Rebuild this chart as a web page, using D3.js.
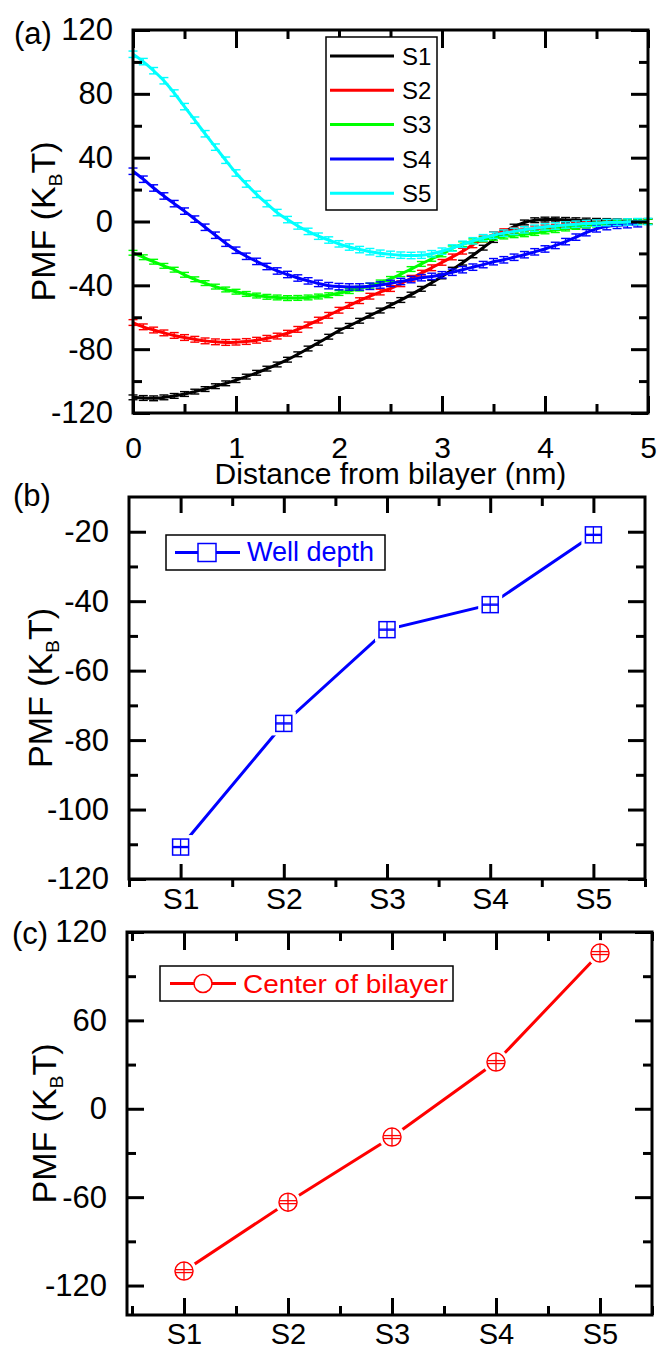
<!DOCTYPE html>
<html>
<head>
<meta charset="utf-8">
<script src="https://cdn.jsdelivr.net/npm/d3@7"></script>
<style>
body { margin: 0; background: #fff; }
text { font-family: "Liberation Sans", Arial, sans-serif; }
</style>
</head>
<body>
<svg id="fig" width="659" height="1349"></svg>
<script>
// ---- data ----
var distNm = [0,0.1,0.2,0.3,0.4,0.5,0.6,0.7,0.8,0.9,1.0,1.1,1.2,1.3,1.4,1.5,1.6,1.7,1.8,1.9,
  2.0,2.1,2.2,2.3,2.4,2.5,2.6,2.7,2.8,2.9,3.0,3.1,3.2,3.3,3.4,3.5,3.6,3.7,3.8,3.9,
  4.0,4.1,4.2,4.3,4.4,4.5,4.6,4.7,4.8,4.9,5.0];

var pmfS1 = [-110.2,-110.6,-110.8,-110.2,-109.3,-108.1,-106.6,-105.0,-103.2,-101.4,
  -99.4,-97.2,-94.8,-92.2,-89.6,-86.6,-83.2,-79.6,-76.0,-72.2,
  -68.4,-65.4,-62.2,-59.0,-55.8,-52.5,-49.2,-45.8,-42.2,-38.4,
  -34.4,-30.2,-25.8,-21.2,-16.4,-11.6,-7.0,-3.2,-0.6,0.8,
  1.2,1.2,1.0,0.8,0.6,0.4,0.3,0.2,0.1,0.0,0.0];
var pmfS2 = [-63.3,-66.0,-68.0,-69.8,-71.4,-72.7,-73.8,-74.8,-75.4,-75.8,
  -75.6,-75.2,-74.4,-73.2,-71.8,-70.0,-67.6,-64.8,-61.8,-58.8,
  -55.6,-52.6,-49.6,-46.8,-44.2,-42.0,-39.0,-35.6,-32.4,-29.0,
  -25.6,-22.2,-18.6,-14.6,-11.0,-8.2,-6.4,-5.6,-5.0,-4.6,
  -4.0,-3.6,-3.0,-2.4,-1.8,-1.2,-0.8,-0.5,-0.3,-0.1,0.0];
var pmfS3 = [-19.6,-22.4,-25.2,-27.8,-30.2,-33.4,-36.2,-38.6,-40.8,-42.6,
  -44.0,-45.4,-46.4,-47.2,-47.6,-48.0,-47.9,-47.6,-47.0,-46.2,
  -44.8,-43.6,-42.0,-40.2,-38.2,-36.0,-33.0,-29.8,-26.6,-23.4,
  -20.6,-16.8,-14.2,-12.4,-11.2,-10.2,-9.4,-8.6,-8.0,-7.2,
  -6.2,-5.4,-4.4,-3.4,-2.6,-1.9,-1.4,-0.8,-0.5,-0.2,0.0];
var pmfS4 = [31.5,26.5,21.0,16.0,11.2,6.5,1.5,-3.6,-8.6,-13.6,
  -18.0,-21.8,-25.0,-28.2,-31.0,-33.2,-35.4,-37.2,-38.8,-40.2,
  -40.8,-41.0,-41.0,-40.6,-39.8,-38.8,-37.6,-36.4,-35.2,-34.4,
  -33.4,-31.8,-30.2,-28.6,-27.0,-25.2,-24.0,-22.4,-20.8,-19.0,
  -17.2,-15.0,-12.6,-9.8,-7.0,-4.6,-3.2,-2.4,-2.0,-1.4];
var pmfS5 = [104.8,100.2,94.5,88.2,80.5,72.0,63.5,55.0,46.6,38.4,
  30.4,23.5,17.0,11.2,5.6,1.2,-2.8,-6.2,-9.2,-11.6,
  -14.0,-16.0,-17.6,-18.9,-19.9,-20.6,-21.1,-21.3,-21.1,-20.2,
  -18.6,-16.6,-14.3,-12.1,-10.2,-8.6,-7.3,-6.2,-5.2,-4.2,
  -3.4,-2.8,-2.2,-1.7,-1.3,-1.0,-0.7,-0.5,-0.3,-0.1,0.0];

var seriesNames = ["S1", "S2", "S3", "S4", "S5"];
var seriesColors = ["#000000", "#ff0000", "#00ff00", "#0000ff", "#00ffff"];
var seriesErr = [1.5, 1.8, 1.5, 2.0, 2.0];

var sampleIdx = [1, 2, 3, 4, 5];
var sampleLabels = ["S1", "S2", "S3", "S4", "S5"];
var wellDepth = [-110.8, -75.2, -48.2, -41.0, -20.9];
var wellErr = [0.5, 0.5, 0.5, 0.5, 0.5];
var centerPmf = [-110.2, -63.4, -19.2, 31.7, 105.7];
var centerErr = [1.0, 1.0, 1.0, 1.0, 1.0];

var xTicksA = [0, 1, 2, 3, 4, 5];
var xMinorA = [0.5, 1.5, 2.5, 3.5, 4.5];
var yTicksA = [-120, -80, -40, 0, 40, 80, 120];
var yMinorA = [-100, -60, -20, 20, 60, 100];
var xMinorS = [1.5, 2.5, 3.5, 4.5];
var xEdgeS = [0.5, 1.5, 2.5, 3.5, 4.5, 5.5];
var yTicksB = [-120, -100, -80, -60, -40, -20];
var yMinorB = [-110, -90, -70, -50, -30];
var yTicksC = [-120, -60, 0, 60, 120];
var yMinorC = [-90, -30, 30, 90];

var svg = d3.select("#fig");
svg.append("rect").attr("width", 659).attr("height", 1349).attr("fill", "#fff");

// plain hyphen minus, like the original plot
var plainNum = function (d) { return String(d); };

function styleAxis(g, fs) {
  g.select(".domain").remove();
  g.selectAll(".tick line").attr("stroke", "#000").attr("stroke-width", 3);
  g.selectAll(".tick text").attr("fill", "#000").style("font-size", fs + "px")
    .style("font-family", '"Liberation Sans", Arial, sans-serif');
}

// axes on four sides, ticks pointing inward
function drawAxes(box, x, y, o) {
  var bot = svg.append("g").attr("transform", "translate(0," + box.bottom + ")")
    .call(d3.axisBottom(x).tickValues(o.xMajor).tickFormat(o.xFmt)
      .tickSizeInner(-o.xLen).tickSizeOuter(0).tickPadding(o.xPad));
  styleAxis(bot, o.xFs || 30);
  var botMinor = svg.append("g").attr("transform", "translate(0," + box.bottom + ")")
    .call(d3.axisBottom(x).tickValues(o.xMinor).tickFormat("")
      .tickSizeInner(o.xMinorOut ? 8 : -9).tickSizeOuter(0));
  styleAxis(botMinor, 30);
  var top = svg.append("g").attr("transform", "translate(0," + box.top + ")")
    .call(d3.axisTop(x).tickValues(o.xMajor).tickFormat("").tickSizeInner(-o.xLen - 1).tickSizeOuter(0));
  styleAxis(top, 30);
  var topMinor = svg.append("g").attr("transform", "translate(0," + box.top + ")")
    .call(d3.axisTop(x).tickValues(o.xMinorTop).tickFormat("").tickSizeInner(-9).tickSizeOuter(0));
  styleAxis(topMinor, 30);

  var left = svg.append("g").attr("transform", "translate(" + box.yLine + ",0)")
    .call(d3.axisLeft(y).tickValues(o.yMajor).tickFormat(plainNum)
      .tickSizeInner(-17).tickSizeOuter(0).tickPadding(20));
  styleAxis(left, 31);
  var leftMinor = svg.append("g").attr("transform", "translate(" + box.yLine + ",0)")
    .call(d3.axisLeft(y).tickValues(o.yMinor).tickFormat("").tickSizeInner(-9).tickSizeOuter(0));
  styleAxis(leftMinor, 30);
  var right = svg.append("g").attr("transform", "translate(" + box.right + ",0)")
    .call(d3.axisRight(y).tickValues(o.yMajor).tickFormat("").tickSizeInner(-17).tickSizeOuter(0));
  styleAxis(right, 30);
  var rightMinor = svg.append("g").attr("transform", "translate(" + box.right + ",0)")
    .call(d3.axisRight(y).tickValues(o.yMinor).tickFormat("").tickSizeInner(-9).tickSizeOuter(0));
  styleAxis(rightMinor, 30);

  svg.append("rect")
    .attr("x", box.yLine).attr("y", box.top)
    .attr("width", box.right - box.yLine).attr("height", box.bottom - box.top)
    .attr("fill", "none").attr("stroke", "#000").attr("stroke-width", 3);
}

function yTitle(bx, cy) {
  var t = svg.append("text")
    .attr("transform", "translate(" + bx + "," + cy + ") rotate(-90)")
    .attr("text-anchor", "middle").style("font-size", "34px").attr("fill", "#000");
  t.append("tspan").text("PMF (K");
  t.append("tspan").attr("dy", 7).style("font-size", "19px").text("B");
  t.append("tspan").attr("dy", -7).text("T)");
}

function panelTag(x, y, s) {
  svg.append("text").attr("x", x).attr("y", y).style("font-size", "31px").attr("fill", "#000").text(s);
}

// ================= panel (a) =================
var A = { yLine: 133, right: 648, top: 30, bottom: 413 };
var xA = d3.scaleLinear().domain([0, 5]).range([A.yLine, A.right]);
var yA = d3.scaleLinear().domain([-120, 120]).range([A.bottom, A.top]);

var curves = [pmfS1, pmfS2, pmfS3, pmfS4, pmfS5];
var plotA = svg.append("g");
curves.forEach(function (vals, k) {
  var pts = vals.map(function (v, i) { return { x: distNm[i], y: v }; });
  var e = seriesErr[k], col = seriesColors[k];
  var g = plotA.append("g").attr("stroke", col).attr("fill", "none");
  g.selectAll("line.stem").data(pts).join("line").attr("class", "stem")
    .attr("x1", function (d) { return xA(d.x); }).attr("x2", function (d) { return xA(d.x); })
    .attr("y1", function (d) { return yA(d.y + e); }).attr("y2", function (d) { return yA(d.y - e); })
    .attr("stroke-width", 1.2);
  [e, -e].forEach(function (off) {
    g.selectAll(null).data(pts).join("line")
      .attr("x1", function (d) { return xA(d.x) - 4.5; }).attr("x2", function (d) { return xA(d.x) + 4.5; })
      .attr("y1", function (d) { return yA(d.y + off); }).attr("y2", function (d) { return yA(d.y + off); })
      .attr("stroke-width", 1.4);
  });
  g.append("path").datum(pts)
    .attr("d", d3.line().curve(d3.curveMonotoneX)
      .x(function (d) { return xA(d.x); }).y(function (d) { return yA(d.y); }))
    .attr("stroke-width", 3).attr("stroke-linejoin", "round");
});

drawAxes(A, xA, yA, {
  xMajor: xTicksA, xMinor: xMinorA, xMinorTop: xMinorA, xFmt: plainNum, xLen: 17, xPad: 24,
  yMajor: yTicksA, yMinor: yMinorA
});

// legend (a)
var legA = svg.append("g");
legA.append("rect").attr("x", 326).attr("y", 37).attr("width", 111).attr("height", 173)
  .attr("fill", "#fff").attr("stroke", "#000").attr("stroke-width", 1.5);
seriesNames.forEach(function (n, k) {
  var yy = 56 + k * 34.3;
  legA.append("line").attr("x1", 330).attr("x2", 394).attr("y1", yy).attr("y2", yy)
    .attr("stroke", seriesColors[k]).attr("stroke-width", 3);
  legA.append("text").attr("x", 402).attr("y", yy).attr("dy", "0.36em")
    .style("font-size", "24px").attr("fill", "#000").text(n);
});

svg.append("text").attr("x", (A.yLine + A.right) / 2).attr("y", 484).attr("text-anchor", "middle")
  .style("font-size", "30px").attr("fill", "#000").text("Distance from bilayer (nm)");
yTitle(55, (A.top + A.bottom) / 2);
panelTag(14, 44, "(a)");

// ================= panel (b) =================
var B = { yLine: 129, right: 645, top: 497, bottom: 879 };
var xB = d3.scaleLinear().domain([0.5, 5.5]).range([B.yLine, B.right]);
var yB = d3.scaleLinear().domain([-120, -10]).range([B.bottom, B.top]);

drawAxes(B, xB, yB, {
  xMajor: sampleIdx, xMinor: xEdgeS, xMinorTop: xMinorS, xMinorOut: true,
  xFmt: function (d, i) { return sampleLabels[i]; }, xLen: 15, xPad: 9,
  yMajor: yTicksB, yMinor: yMinorB
});

var ptsB = wellDepth.map(function (v, i) { return { x: sampleIdx[i], y: v, e: wellErr[i] }; });
svg.append("path").datum(ptsB)
  .attr("d", d3.line().x(function (d) { return xB(d.x); }).y(function (d) { return yB(d.y); }))
  .attr("fill", "none").attr("stroke", "#0000ff").attr("stroke-width", 3);
var mB = svg.selectAll("g.mb").data(ptsB).join("g").attr("class", "mb")
  .attr("transform", function (d) { return "translate(" + xB(d.x) + "," + yB(d.y) + ")"; });
mB.append("rect").attr("x", -12).attr("y", -12).attr("width", 24).attr("height", 24).attr("fill", "#fff");
mB.append("rect").attr("x", -8).attr("y", -8).attr("width", 16).attr("height", 16)
  .attr("fill", "#fff").attr("stroke", "#0000ff").attr("stroke-width", 1.5);
mB.append("line").attr("x1", 0).attr("x2", 0).attr("y1", -8).attr("y2", 8).attr("stroke", "#0000ff").attr("stroke-width", 1.3);
[1, -1].forEach(function (s) {
  mB.append("line").attr("x1", -8).attr("x2", 8)
    .attr("y1", function (d) { return yB(d.y + s * d.e) - yB(d.y) + s * 1.2; })
    .attr("y2", function (d) { return yB(d.y + s * d.e) - yB(d.y) + s * 1.2; })
    .attr("stroke", "#0000ff").attr("stroke-width", 1.3);
});

var legB = svg.append("g");
legB.append("rect").attr("x", 166).attr("y", 535).attr("width", 219).attr("height", 35)
  .attr("fill", "#fff").attr("stroke", "#000").attr("stroke-width", 1.5);
legB.append("line").attr("x1", 175).attr("x2", 240).attr("y1", 552.5).attr("y2", 552.5)
  .attr("stroke", "#0000ff").attr("stroke-width", 3);
legB.append("rect").attr("x", 198).attr("y", 543.5).attr("width", 18).attr("height", 18)
  .attr("fill", "#fff").attr("stroke", "#0000ff").attr("stroke-width", 1.5);
legB.append("text").attr("x", 247).attr("y", 561).style("font-size", "27px").attr("fill", "#0000ff").text("Well depth");

yTitle(52, (B.top + B.bottom) / 2);
panelTag(13, 506, "(b)");

// ================= panel (c) =================
var C = { yLine: 127, right: 652, top: 932, bottom: 1315 };
var xC = d3.scaleLinear().domain([0.5, 5.5]).range([132, C.right]);
var yC = d3.scaleLinear().domain([-140, 120]).range([C.bottom, C.top]);

drawAxes(C, xC, yC, {
  xMajor: sampleIdx, xMinor: xEdgeS, xMinorTop: xEdgeS,
  xFmt: function (d, i) { return sampleLabels[i]; }, xLen: 17, xPad: 8, xFs: 29,
  yMajor: yTicksC, yMinor: yMinorC
});

var ptsC = centerPmf.map(function (v, i) { return { x: sampleIdx[i], y: v, e: centerErr[i] }; });
svg.append("path").datum(ptsC)
  .attr("d", d3.line().x(function (d) { return xC(d.x); }).y(function (d) { return yC(d.y); }))
  .attr("fill", "none").attr("stroke", "#ff0000").attr("stroke-width", 3);
var mC = svg.selectAll("g.mc").data(ptsC).join("g").attr("class", "mc")
  .attr("transform", function (d) { return "translate(" + xC(d.x) + "," + yC(d.y) + ")"; });
mC.append("circle").attr("r", 13).attr("fill", "#fff");
mC.append("circle").attr("r", 9).attr("fill", "#fff").attr("stroke", "#ff0000").attr("stroke-width", 1.5);
mC.append("line").attr("x1", 0).attr("x2", 0).attr("y1", -9).attr("y2", 9).attr("stroke", "#ff0000").attr("stroke-width", 1.3);
[1, -1].forEach(function (s) {
  mC.append("line").attr("x1", -8).attr("x2", 8)
    .attr("y1", function (d) { return yC(d.y + s * d.e) - yC(d.y); })
    .attr("y2", function (d) { return yC(d.y + s * d.e) - yC(d.y); })
    .attr("stroke", "#ff0000").attr("stroke-width", 1.3);
});

var legC = svg.append("g");
legC.append("rect").attr("x", 160).attr("y", 966).attr("width", 293).attr("height", 35)
  .attr("fill", "#fff").attr("stroke", "#000").attr("stroke-width", 1.5);
legC.append("line").attr("x1", 170).attr("x2", 236).attr("y1", 983.5).attr("y2", 983.5)
  .attr("stroke", "#ff0000").attr("stroke-width", 3);
legC.append("circle").attr("cx", 203).attr("cy", 983.5).attr("r", 9)
  .attr("fill", "#fff").attr("stroke", "#ff0000").attr("stroke-width", 1.5);
legC.append("text").attr("x", 243).attr("y", 993).style("font-size", "26px").attr("fill", "#ff0000")
  .attr("textLength", 205).attr("lengthAdjust", "spacingAndGlyphs").text("Center of bilayer");

yTitle(56, (C.top + C.bottom) / 2);
panelTag(12, 944, "(c)");
</script>
</body>
</html>
